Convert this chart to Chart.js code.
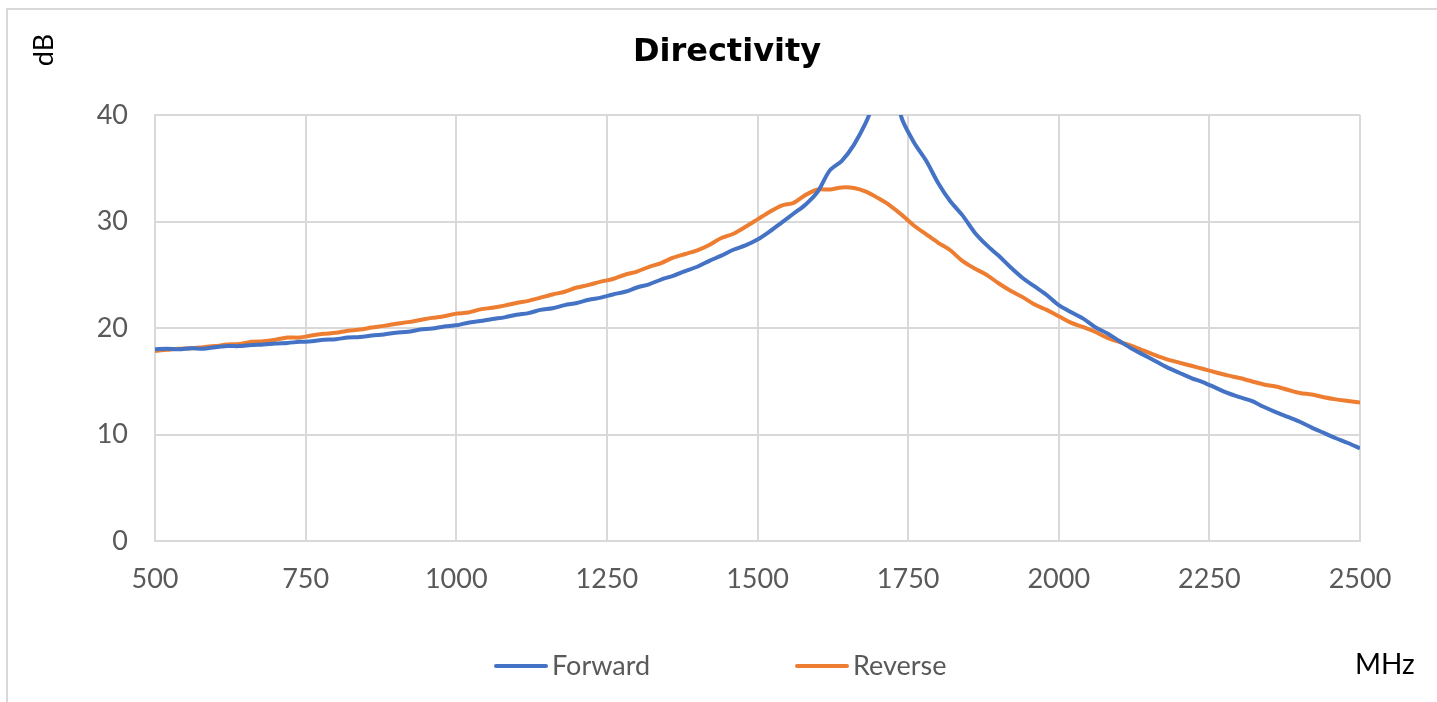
<!DOCTYPE html>
<html>
<head>
<meta charset="utf-8">
<script src="https://cdn.jsdelivr.net/npm/chart.js@4"></script>
<style>
  html, body { margin: 0; padding: 0; background: #fff; overflow: hidden; }
  #wrap { position: relative; width: 1437px; height: 702px; }
  canvas { display: block; }
</style>
</head>
<body>
<div id="wrap"><canvas id="c" width="1437" height="702"></canvas></div>
<script>
// ---- data ----
const freqs = [
  500, 520, 540, 560, 580, 600, 620, 640, 660, 680,
  700, 720, 740, 760, 780, 800, 820, 840, 860, 880,
  900, 920, 940, 960, 980, 1000, 1020, 1040, 1060, 1080,
  1100, 1120, 1140, 1160, 1180, 1200, 1220, 1240, 1260, 1280,
  1300, 1320, 1340, 1360, 1380, 1400, 1420, 1440, 1460, 1480,
  1500, 1520, 1540, 1560, 1580, 1600, 1620, 1640, 1660, 1680,
  1700, 1720, 1740, 1760, 1780, 1800, 1820, 1840, 1860, 1880,
  1900, 1920, 1940, 1960, 1980, 2000, 2020, 2040, 2060, 2080,
  2100, 2120, 2140, 2160, 2180, 2200, 2220, 2240, 2260, 2280,
  2300, 2320, 2340, 2360, 2380, 2400, 2420, 2440, 2460, 2480,
  2500
];
const forward = [
  18.0, 18.05, 18.0, 18.1, 18.05, 18.2, 18.3, 18.3, 18.4, 18.45,
  18.55, 18.6, 18.7, 18.75, 18.9, 18.95, 19.1, 19.15, 19.3, 19.4,
  19.55, 19.65, 19.85, 19.95, 20.15, 20.25, 20.5, 20.65, 20.85, 21.0,
  21.25, 21.4, 21.7, 21.85, 22.15, 22.35, 22.65, 22.85, 23.15, 23.4,
  23.8, 24.1, 24.55, 24.9, 25.35, 25.75, 26.3, 26.8, 27.35, 27.75,
  28.3, 29.05, 29.9, 30.75, 31.6, 32.8, 34.8, 35.7, 37.2, 39.3,
  42.0, 43.5, 39.6, 37.4, 35.7, 33.6, 31.9, 30.6, 29.0, 27.8,
  26.8, 25.7, 24.7, 23.9, 23.1, 22.15, 21.5, 20.9, 20.1, 19.5,
  18.8, 18.1, 17.5, 16.9, 16.3, 15.8, 15.3, 14.9, 14.4, 13.9,
  13.5, 13.15, 12.6, 12.1, 11.65, 11.2, 10.65, 10.15, 9.65, 9.2,
  8.7
];
const reverse = [
  17.85, 17.95, 18.05, 18.1, 18.2, 18.3, 18.45, 18.5, 18.7, 18.75,
  18.9, 19.1, 19.1, 19.3, 19.45, 19.55, 19.75, 19.85, 20.05, 20.2,
  20.4, 20.55, 20.75, 20.95, 21.1, 21.35, 21.45, 21.75, 21.9, 22.1,
  22.35, 22.55, 22.85, 23.15, 23.4, 23.8, 24.05, 24.35, 24.6, 25.0,
  25.3, 25.75, 26.1, 26.6, 26.95, 27.3, 27.8, 28.45, 28.85, 29.5,
  30.2, 30.9, 31.5, 31.75, 32.5, 33.0, 33.0, 33.2, 33.15, 32.8,
  32.2, 31.5, 30.6, 29.6, 28.8, 28.0, 27.3, 26.3, 25.6, 25.0,
  24.2, 23.5, 22.9, 22.2, 21.7, 21.1, 20.5, 20.1, 19.65, 19.1,
  18.7, 18.35, 17.9, 17.45, 17.05, 16.75, 16.45, 16.15, 15.85, 15.55,
  15.3, 15.0, 14.7, 14.5, 14.2, 13.9, 13.75, 13.5, 13.3, 13.15,
  13.0
];
const seriesNames = ['Forward', 'Reverse'];
const titleText = 'Directivity';
const yUnit = 'dB';
const xUnit = 'MHz';
const xMin = 500, xMax = 2500, xStep = 250;
const yMin = 0, yMax = 40, yStep = 10;

// ---- build ----
const toPts = (arr) => freqs.map((f, i) => ({ x: f, y: arr[i] }));
const colors = ['#4472C4', '#ED7D31'];
const gridColor = '#d9d9d9';
const tickColor = '#595959';
const baseFont = 'Lato, "Open Sans", sans-serif';

const decor = {
  id: 'decor',
  beforeDraw(chart) {
    const ctx = chart.ctx;
    ctx.save();
    ctx.strokeStyle = gridColor;
    ctx.lineWidth = 2;
    ctx.strokeRect(7, 9, 1480, 800);
    ctx.restore();
  },
  afterDraw(chart) {
    const ctx = chart.ctx;
    ctx.save();
    // title
    ctx.fillStyle = '#000';
    ctx.font = 'bold 32px "DejaVu Sans", sans-serif';
    ctx.textAlign = 'center';
    ctx.textBaseline = 'middle';
    ctx.fillText(titleText, 727, 53);
    // y unit
    ctx.save();
    ctx.translate(44, 50);
    ctx.rotate(-Math.PI / 2);
    ctx.font = '27px ' + baseFont;
    ctx.textAlign = 'center';
    ctx.textBaseline = 'middle';
    ctx.fillText(yUnit, 0, 0);
    ctx.restore();
    // x unit
    ctx.font = '28px ' + baseFont;
    ctx.textAlign = 'left';
    ctx.textBaseline = 'middle';
    ctx.fillStyle = '#000';
    ctx.fillText(xUnit, 1355, 665);
    // legend
    const starts = [494, 795];
    chart.data.datasets.forEach((ds, i) => {
      const x0 = starts[i];
      const y0 = 666;
      ctx.strokeStyle = ds.borderColor;
      ctx.lineWidth = 4;
      ctx.lineCap = 'round';
      ctx.beginPath();
      ctx.moveTo(x0 + 2, y0);
      ctx.lineTo(x0 + 52, y0);
      ctx.stroke();
      ctx.fillStyle = tickColor;
      ctx.font = '27px ' + baseFont;
      ctx.textAlign = 'left';
      ctx.textBaseline = 'middle';
      ctx.fillText(ds.label, x0 + 58, y0);
    });
    ctx.restore();
  }
};

new Chart(document.getElementById('c'), {
  type: 'line',
  data: {
    datasets: [
      { label: seriesNames[0], data: toPts(forward), borderColor: colors[0], backgroundColor: colors[0],
        borderWidth: 4, pointRadius: 0, tension: 0.3, fill: false },
      { label: seriesNames[1], data: toPts(reverse), borderColor: colors[1], backgroundColor: colors[1],
        borderWidth: 4, pointRadius: 0, tension: 0.3, fill: false }
    ]
  },
  options: {
    responsive: false,
    animation: false,
    devicePixelRatio: 1,
    layout: { padding: { top: 115, right: 77, bottom: 101, left: 0 } },
    plugins: { legend: { display: false }, title: { display: false }, tooltip: { enabled: false } },
    scales: {
      x: {
        type: 'linear', min: xMin, max: xMax,
        ticks: { stepSize: xStep, color: tickColor, font: { family: baseFont, size: 27 }, padding: 22, maxRotation: 0,
                 callback: (v) => String(v) },
        grid: { color: gridColor, lineWidth: 2, drawTicks: false },
        border: { color: gridColor, width: 2 },
        afterFit(s) { s.height = 60; }
      },
      y: {
        min: yMin, max: yMax,
        ticks: { stepSize: yStep, color: tickColor, font: { family: baseFont, size: 27 }, padding: 27,
                 callback: (v) => String(v) },
        grid: { color: gridColor, lineWidth: 2, drawTicks: false },
        border: { color: gridColor, width: 2 },
        afterFit(s) { s.width = 155; }
      }
    }
  },
  plugins: [decor]
});
</script>
</body>
</html>
